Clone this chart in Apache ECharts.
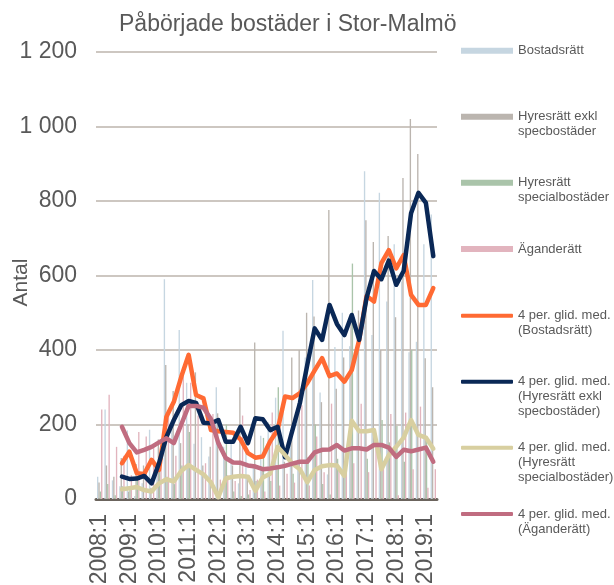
<!DOCTYPE html>
<html>
<head>
<meta charset="utf-8">
<script src="https://cdn.jsdelivr.net/npm/echarts@6/dist/echarts.min.js"></script>
<style>
  html, body { margin: 0; padding: 0; background: #fff; }
  #chart { width: 614px; height: 585px; }
</style>
</head>
<body>
<div id="chart"></div>
<script>
// kvartal 2008:1 - 2019:2
var quarters = [
  '2008:1','2008:2','2008:3','2008:4','2009:1','2009:2','2009:3','2009:4',
  '2010:1','2010:2','2010:3','2010:4','2011:1','2011:2','2011:3','2011:4',
  '2012:1','2012:2','2012:3','2012:4','2013:1','2013:2','2013:3','2013:4',
  '2014:1','2014:2','2014:3','2014:4','2015:1','2015:2','2015:3','2015:4',
  '2016:1','2016:2','2016:3','2016:4','2017:1','2017:2','2017:3','2017:4',
  '2018:1','2018:2','2018:3','2018:4','2019:1','2019:2'
];

var yTicks = [0, 200, 400, 600, 800, 1000, 1200];

// staplar
var bostadsratt = [60,240,50,34,184,8,42,186,76,590,202,454,312,148,166,114,300,140,158,42,152,92,170,206,
  272,452,154,258,380,588,286,66,408,500,410,390,880,440,822,530,684,584,394,422,684,764];
var hyresExkl = [44,90,60,110,20,94,90,30,160,360,290,150,200,340,90,140,230,120,90,300,60,420,80,150,
  90,100,380,400,500,490,260,776,296,380,480,506,748,690,400,706,488,862,1020,926,378,300];
var hyresSpec = [20,40,10,34,32,52,0,0,100,60,40,90,180,0,0,0,20,200,20,8,12,48,164,48,
  300,0,68,0,112,200,40,12,108,88,632,0,108,0,212,152,196,100,400,0,168,0];
var aganderatt = [240,280,140,116,64,180,168,148,112,224,116,348,312,224,96,228,52,64,48,224,24,52,20,232,
  36,68,44,252,36,168,72,256,84,108,96,256,72,156,96,228,10,232,80,248,30,80];

// 4 per. glidande medelvärde
var maBostadsratt = [null,null,null,96,127,69,67,105,78,221,261,328,387,279,270,185,182,180,178,160,123,111,114,155,
  185,275,271,284,311,345,378,330,337,315,346,427,545,530,633,668,619,655,548,521,521,566];
var maHyresExkl = [null,null,null,60,54,55,62,42,96,167,212,252,263,258,205,203,212,154,154,194,150,217,214,185,
  194,112,185,257,360,458,427,521,470,440,494,427,540,612,590,640,575,612,767,822,795,652];
var maHyresSpec = [null,null,null,26,29,32,24,20,42,53,47,75,91,78,66,45,5,55,60,62,60,22,58,68,
  140,118,95,80,45,78,88,91,90,62,210,182,182,185,80,118,140,165,212,172,165,135];
var maAganderatt = [null,null,null,194,150,125,132,140,152,163,150,200,250,250,245,215,150,110,98,97,90,87,80,82,
  85,89,95,100,100,125,132,133,145,130,136,136,133,145,145,138,113,132,128,133,138,100];

var textColor = '#595959';
var font = 'Liberation Sans, Arial, sans-serif';

function bar(name, data, color) {
  return {
    name: name, type: 'bar', data: data,
    barWidth: 1.35, barGap: '0%',
    itemStyle: { color: color },
    silent: true
  };
}
function line(name, data, color) {
  return {
    name: name, type: 'line', data: data,
    symbol: 'none', showSymbol: false,
    lineStyle: { color: color, width: 4.5, cap: 'round', join: 'round' },
    itemStyle: { color: color },
    silent: true
  };
}

// en legend per post; tomrader före texten gör att ikonen hamnar vid första raden
var lh = 15;
function legend(name, centerY, isLine) {
  var n = name.split('\n').length;
  var blank = new Array(n).join('\n');
  return {
    data: [name],
    left: 461,
    top: centerY - (2 * n - 1) * lh / 2,
    padding: 0,
    orient: 'vertical',
    itemWidth: 52,
    itemHeight: isLine ? 4 : 6,
    itemGap: 0,
    selectedMode: false,
    icon: isLine ? 'roundRect' : 'rect',
    formatter: function (s) { return blank + s; },
    textStyle: { fontFamily: font, fontSize: 13, color: textColor, lineHeight: lh }
  };
}

var chart = echarts.init(document.getElementById('chart'));
var option = {
  animation: false,
  backgroundColor: '#fff',
  title: {
    text: 'Påbörjade bostäder i Stor-Malmö',
    left: 114, top: 8,
    textStyle: { fontFamily: font, fontSize: 23, fontWeight: 'normal', color: textColor }
  },
  legend: [
    legend('Bostadsrätt', 50.7, false),
    legend('Hyresrätt exkl\nspecbostäder', 116.7, false),
    legend('Hyresrätt\nspecialbostäder', 182.7, false),
    legend('Äganderätt', 249, false),
    legend('4 per. glid. med.\n(Bostadsrätt)', 315.7, true),
    legend('4 per. glid. med.\n(Hyresrätt exkl\nspecbostäder)', 381.7, true),
    legend('4 per. glid. med.\n(Hyresrätt\nspecialbostäder)', 447.7, true),
    legend('4 per. glid. med.\n(Äganderätt)', 514, true)
  ],
  grid: { left: 96, top: 52, width: 341, height: 447, containLabel: false, outerBoundsMode: 'none' },
  xAxis: {
    type: 'category',
    data: quarters,
    boundaryGap: true,
    axisLine: { lineStyle: { color: '#6b645d', width: 3 } },
    axisTick: { show: false },
    axisLabel: {
      interval: 3, rotate: 90, margin: 15,
      fontFamily: font, fontSize: 23, color: textColor
    }
  },
  yAxis: {
    type: 'value',
    min: yTicks[0], max: yTicks[yTicks.length - 1], interval: 200,
    name: 'Antal', nameLocation: 'middle', nameGap: 64, nameRotate: 90,
    nameMoveOverlap: false,
    nameTextStyle: { fontFamily: font, fontSize: 21, color: textColor, padding: [0, 14, 0, 0] },
    axisLine: { show: false },
    axisTick: { show: false },
    splitLine: { lineStyle: { color: '#cdc7c1', width: 2 } },
    axisLabel: {
      margin: 19, fontFamily: font, fontSize: 23, color: textColor,
      formatter: function (v) { return String(v).replace(/\B(?=(\d{3})+(?!\d))/g, ' '); }
    }
  },
  series: [
    bar('Bostadsrätt', bostadsratt, '#c6d6e1'),
    bar('Hyresrätt exkl\nspecbostäder', hyresExkl, '#bbb5af'),
    bar('Hyresrätt\nspecialbostäder', hyresSpec, '#aac4aa'),
    bar('Äganderätt', aganderatt, '#e2b4be'),
    line('4 per. glid. med.\n(Bostadsrätt)', maBostadsratt, '#ff6a33'),
    line('4 per. glid. med.\n(Hyresrätt exkl\nspecbostäder)', maHyresExkl, '#0a2856'),
    line('4 per. glid. med.\n(Hyresrätt\nspecialbostäder)', maHyresSpec, '#d8cfa0'),
    line('4 per. glid. med.\n(Äganderätt)', maAganderatt, '#c06c80')
  ]
};
chart.setOption(option);
</script>
</body>
</html>
